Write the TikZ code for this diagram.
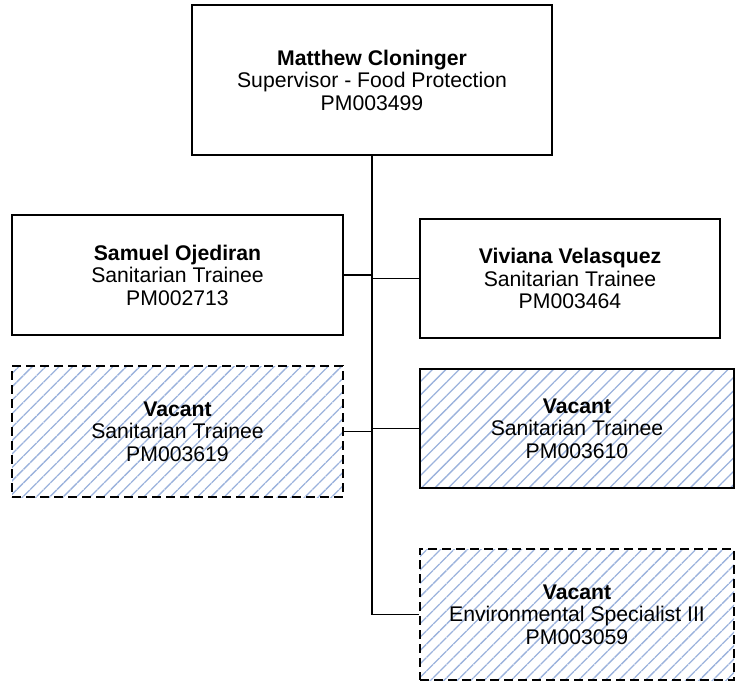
\documentclass[tikz,border=0pt]{standalone}
\usepackage{fontspec}
\setmainfont{Liberation Sans}
\usetikzlibrary{patterns.meta}
\definecolor{hatchblue}{RGB}{155,178,220}
\tikzstyle{block} = [rectangle, draw, line width=1.2pt, align=center, inner sep=0pt, font=\fontsize{21.2}{22.5}\selectfont]
\tikzstyle{vacant} = [block, pattern={Lines[angle=45, distance=9.5pt, line width=1.3pt]}, pattern color=hatchblue]
\tikzstyle{vacantdash} = [vacant, dash pattern=on 9pt off 5pt]
\tikzstyle{branch} = [line width=1.3pt]

\begin{document}
\begin{tikzpicture}[x=1pt, y=-1pt]
	\useasboundingbox (0,0) rectangle (736,681);
	\node[block, minimum width=360pt, minimum height=150pt] (sup) at (372,80) {\textbf{Matthew Cloninger}\\Supervisor - Food Protection\\PM003499};
	\node[block, minimum width=331pt, minimum height=120pt] (samuel) at (177.5,275) {\textbf{Samuel Ojediran}\\Sanitarian Trainee\\PM002713};
	\node[block, minimum width=300pt, minimum height=119pt] (viviana) at (570,278.5) {\textbf{Viviana Velasquez}\\Sanitarian Trainee\\PM003464};
	\node[vacantdash, minimum width=331pt, minimum height=131pt] (vac1) at (177.5,431.5) {\textbf{Vacant}\\Sanitarian Trainee\\PM003619};
	\node[vacant, minimum width=314pt, minimum height=119pt] (vac2) at (577,428.5) {\textbf{Vacant}\\Sanitarian Trainee\\PM003610};
	\node[vacantdash, minimum width=314pt, minimum height=131pt] (vac3) at (577,614.5) {\textbf{Vacant}\\Environmental Specialist III\\PM003059};
	% trunk and branches
	\draw[line width=2pt] (sup.south) -- (sup.south |- vac3.west);
	\draw[branch] (sup.south |- vac3.west) -- (vac3.west);
	\draw[branch] (samuel.east) -- (samuel.east -| sup.south);
	\draw[branch] (viviana.west) -- (viviana.west -| sup.south);
	\draw[branch] (vac1.east) -- (vac1.east -| sup.south);
	\draw[branch] (vac2.west) -- (vac2.west -| sup.south);
\end{tikzpicture}
\end{document}
